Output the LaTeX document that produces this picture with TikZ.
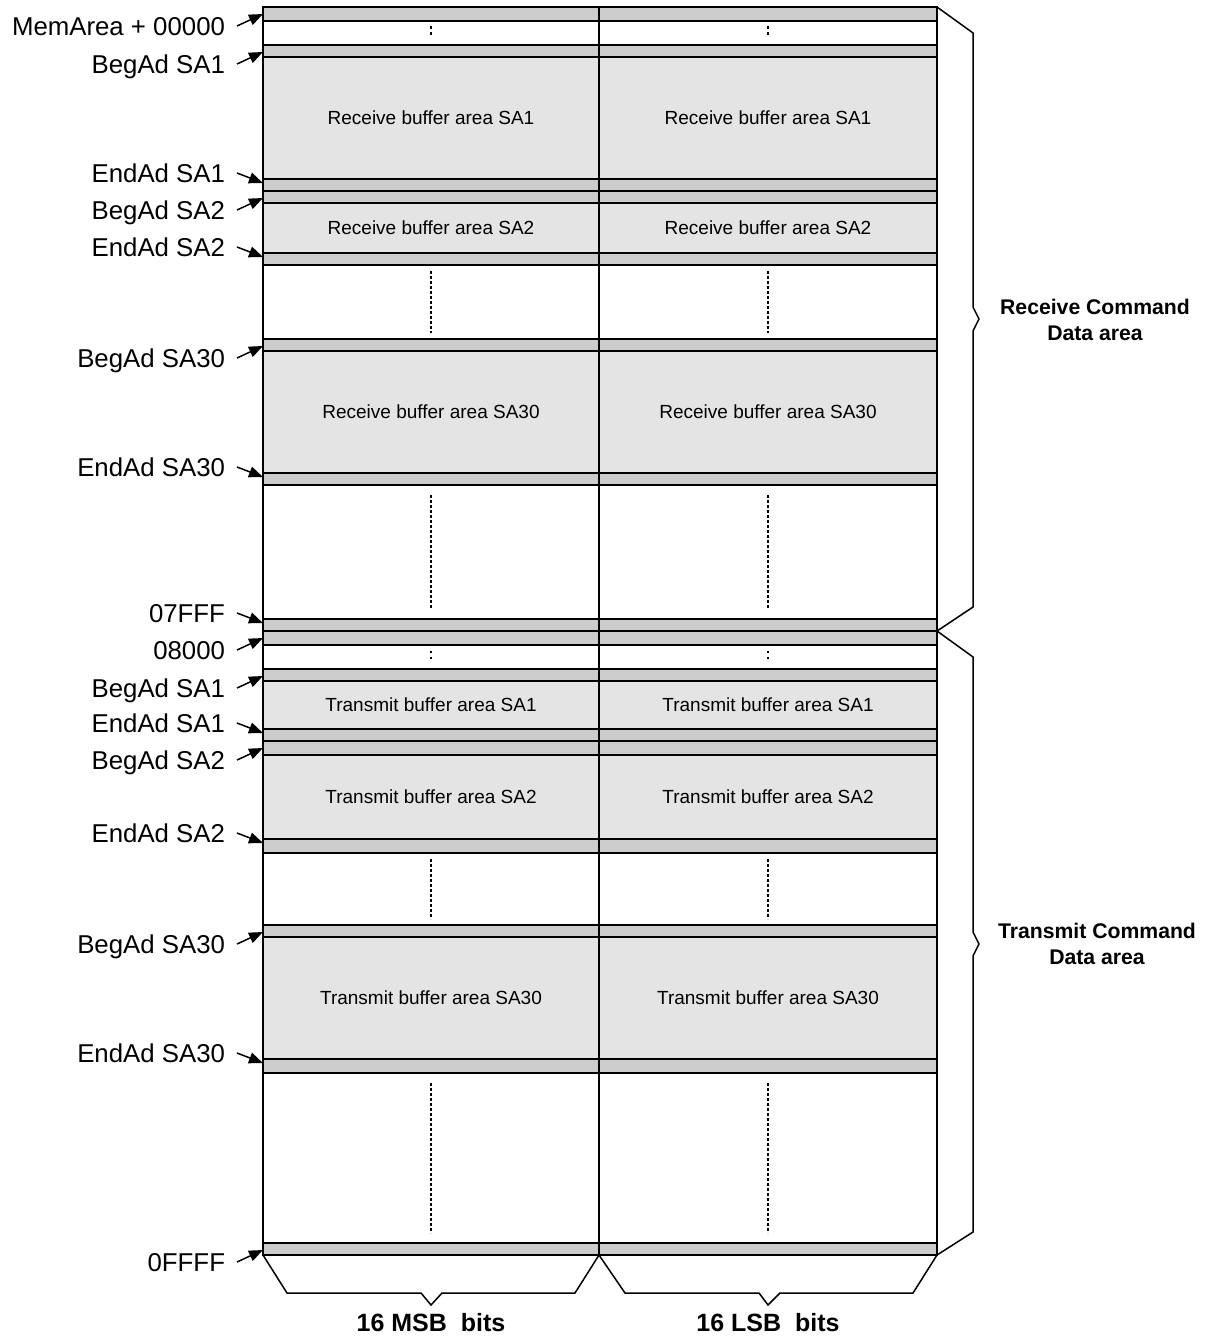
\documentclass[tikz,border=0pt]{standalone}
\usepackage{fontspec}
\setmainfont{Liberation Sans}
\usetikzlibrary{arrows.meta,calc}
\definecolor{bandgray}{RGB}{204,204,204}
\definecolor{areagray}{RGB}{228,228,228}
\begin{document}
\begin{tikzpicture}[x=1pt,y=-1pt,
  cell/.style={draw=black, line width=1.6pt, inner sep=0pt, outer sep=0pt, anchor=north west, font=\fontsize{19}{22}\selectfont},
  bandcell/.style={cell, fill=bandgray},
  areacell/.style={cell, fill=areagray},
  blankcell/.style={cell, fill=white},
  addr/.style={anchor=east, inner xsep=0pt, inner ysep=0pt, outer xsep=12pt, text height=18.4pt, text depth=0pt, font=\fontsize{25.8}{30}\selectfont},
  ptr/.style={line width=1.5pt, -{Triangle[length=14pt,width=11pt]}},
  dots/.style={line width=1.6pt, dash pattern=on 3pt off 2pt},
  colon/.style={line width=2pt, dash pattern=on 2.7pt off 3.3pt},
  brace/.style={line width=1.5pt, line join=miter},
  sidelab/.style={align=center, inner sep=0pt, font=\bfseries\fontsize{21.2}{26}\selectfont},
  bitlab/.style={anchor=base, inner sep=0pt, font=\bfseries\fontsize{25}{28}\selectfont},
]
\useasboundingbox (0,0) rectangle (1211,1337);

% memory rows
\foreach \i/\t/\b/\k/\txt in {
  1/7/21/bandcell/{},
  2/21/45/blankcell/{},
  3/45/57/bandcell/{},
  4/57/179/areacell/{Receive buffer area SA1},
  5/179/191/bandcell/{},
  6/191/203/bandcell/{},
  7/203/253/areacell/{Receive buffer area SA2},
  8/253/265/bandcell/{},
  9/265/339/blankcell/{},
  10/339/351/bandcell/{},
  11/351/473/areacell/{Receive buffer area SA30},
  12/473/485/bandcell/{},
  13/485/619/blankcell/{},
  14/619/631/bandcell/{},
  15/631/645/bandcell/{},
  16/645/669/blankcell/{},
  17/669/681/bandcell/{},
  18/681/729/areacell/{Transmit buffer area SA1},
  19/729/741/bandcell/{},
  20/741/755/bandcell/{},
  21/755/839/areacell/{Transmit buffer area SA2},
  22/839/853/bandcell/{},
  23/853/925/blankcell/{},
  24/925/937/bandcell/{},
  25/937/1059/areacell/{Transmit buffer area SA30},
  26/1059/1073/bandcell/{},
  27/1073/1243/blankcell/{},
  28/1243/1255/bandcell/{}
}{
  \pgfmathsetmacro\h{\b-\t}
  \node[\k, minimum width=336pt, minimum height=\h pt] (cL\i) at (263,\t) {\txt};
  \node[\k, minimum width=338pt, minimum height=\h pt] (cR\i) at (599,\t) {\txt};
}

% vertical dotted lines in the gaps
\foreach \i/\s in {9/6, 13/10, 23/6, 27/10}{
  \draw[dots] ([yshift=-\s pt]cL\i.north) -- ([yshift=\s pt]cL\i.south);
  \draw[dots] ([yshift=-\s pt]cR\i.north) -- ([yshift=\s pt]cR\i.south);
}
\foreach \i in {2,16}{
  \draw[colon] ([yshift=-5.5pt]cL\i.north) -- ([yshift=9.5pt]cL\i.south);
  \draw[colon] ([yshift=-5.5pt]cR\i.north) -- ([yshift=9.5pt]cR\i.south);
}

% begin-type address pointers (from below)
\foreach \i/\txt in {1/{MemArea + 00000}, 3/{BegAd SA1}, 6/{BegAd SA2}, 10/{BegAd SA30},
  15/{08000}, 17/{BegAd SA1}, 20/{BegAd SA2}, 24/{BegAd SA30}, 28/{0FFFF}}{
  \coordinate (tip\i) at ([yshift=-7pt]cL\i.north west);
  \node[addr] (lab\i) at ([xshift=-26pt,yshift=-19pt]cL\i.north west) {\txt};
  \draw[ptr] (lab\i.east) -- (tip\i);
}
% end-type address pointers (from above)
\foreach \i/\txt in {5/{EndAd SA1}, 8/{EndAd SA2}, 12/{EndAd SA30}, 14/{07FFF},
  19/{EndAd SA1}, 22/{EndAd SA2}, 26/{EndAd SA30}}{
  \coordinate (tip\i) at ([yshift=-4pt]cL\i.north west);
  \node[addr] (lab\i) at ([xshift=-26pt,yshift=6pt]cL\i.north west) {\txt};
  \draw[ptr] (lab\i.east) -- (tip\i);
}

% right braces
\draw[brace] (cR1.north east) -- (973,33) -- (973,307) -- (979,319) -- (973,331) -- (973,607) -- (cR14.south east);
\draw[brace] (cR15.north east) -- (973,657) -- (973,932) -- (979,944) -- (973,956) -- (973,1232) -- (cR28.south east);
\node[sidelab] (rcvlab) at (1095,320) {Receive Command\\Data area};
\node[sidelab] (trmlab) at (1097,944) {Transmit Command\\Data area};

% bottom braces
\draw[brace] (cL28.south west) -- (287,1293) -- (421,1293) -- (431,1305) -- (442,1293) -- (575,1293) -- (cL28.south east);
\draw[brace] (cR28.south west) -- (625,1293) -- (759,1293) -- (768,1305) -- (780,1293) -- (913,1293) -- (cR28.south east);
\node[bitlab] (msb) at (431,1331) {16 MSB\ \ bits};
\node[bitlab] (lsb) at (768,1331) {16 LSB\ \ bits};
\end{tikzpicture}
\end{document}
